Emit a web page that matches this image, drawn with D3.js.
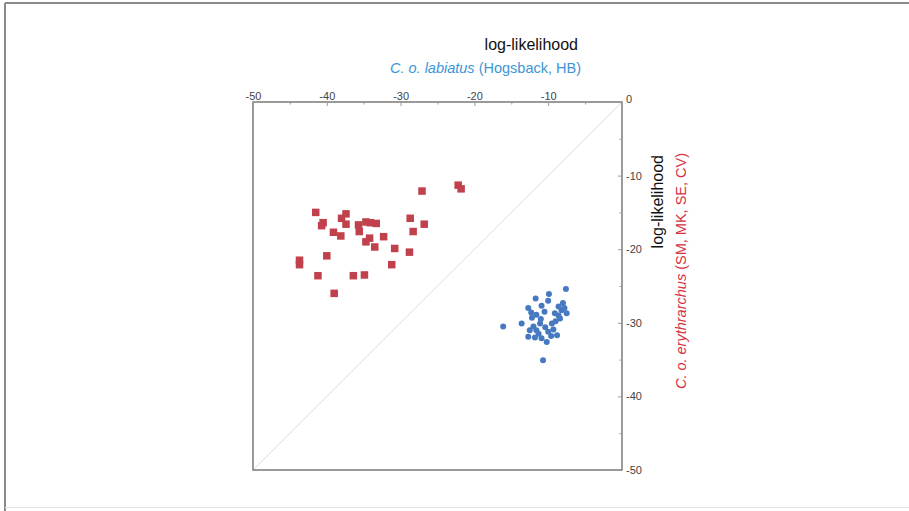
<!DOCTYPE html>
<html>
<head>
<meta charset="utf-8">
<script src="https://cdn.jsdelivr.net/npm/d3@7"></script>
<style>
  html, body { margin: 0; padding: 0; background: #fff; }
  svg { display: block; font-family: "Liberation Sans", Arial, sans-serif; }
</style>
</head>
<body>
<svg id="chart" width="909" height="511"></svg>
<script>
// Log-likelihood of each individual under the two population models
const hbX = [-7.6, -9.9, -11.7, -8.0, -12.7, -10.9, -8.6, -7.5, -9.1, -11.6, -12.2, -13.6, -16.1,
             -11.1, -9.5, -12.5, -11.6, -10.0, -12.7, -10.9, -10.2, -8.8, -10.7, -8.4, -11.0,
             -10.5, -9.0, -8.2, -12.0, -10.4, -11.3, -9.6, -8.6, -7.8, -12.3, -10.0, -11.8, -9.3];
const hbY = [-25.4, -26.1, -26.7, -27.3, -28.0, -27.7, -27.8, -28.7, -28.7, -28.9, -29.3, -30.1, -30.5,
             -30.1, -30.1, -31.0, -31.0, -31.2, -31.9, -32.1, -32.6, -31.7, -35.1, -29.4, -29.5,
             -28.5, -29.8, -28.3, -30.5, -30.6, -31.5, -31.8, -29.0, -28.0, -28.6, -27.0, -32.0, -30.9];

const erX = [-27.1, -22.2, -21.8, -41.5, -37.4, -38.0, -40.5, -40.7, -37.4, -34.7, -34.1, -33.3,
             -28.7, -26.8, -35.7, -35.6, -39.1, -38.1, -28.3, -32.3, -34.2, -34.7, -33.5, -30.8,
             -28.8, -40.0, -43.7, -43.7, -31.2, -41.2, -36.4, -34.9, -39.0];
const erY = [-12.1, -11.3, -11.8, -15.0, -15.2, -15.8, -16.4, -16.8, -16.6, -16.3, -16.4, -16.5,
             -15.8, -16.6, -16.7, -17.6, -17.7, -18.2, -17.6, -18.3, -18.5, -19.0, -19.7, -19.9,
             -20.4, -20.9, -21.5, -22.1, -22.1, -23.6, -23.6, -23.5, -26.0];

const axisTicks = [-50, -40, -30, -20, -10, 0];
const minorTicks = [-45, -35, -25, -15, -5];

const topTitle = "log-likelihood";
const topSub = ["C. o. labiatus", " (Hogsback, HB)"];
const rightTitle = "log-likelihood";
const rightSub = ["C. o. erythrarchus", " (SM, MK, SE, CV)"];

const colBlue = "#4679c0";
const colRed = "#c0404c";
const colBlueText = "#3d95d6";
const colRedText = "#d8323f";
const axisColor = "#7a7a7a";

const svg = d3.select("#chart");

// outer frame
svg.append("line").attr("x1", 5).attr("x2", 909).attr("y1", 3).attr("y2", 3)
  .attr("stroke", "#8a8a8a").attr("stroke-width", 2);
svg.append("line").attr("x1", 5).attr("x2", 5).attr("y1", 3).attr("y2", 511)
  .attr("stroke", "#8a8a8a").attr("stroke-width", 2);
svg.append("line").attr("x1", 5).attr("x2", 909).attr("y1", 507.5).attr("y2", 507.5)
  .attr("stroke", "#e2e2e2").attr("stroke-width", 1);

const L = 253, R = 622, T = 102, B = 470;
const x = d3.scaleLinear().domain([-50, 0]).range([L, R]);
const y = d3.scaleLinear().domain([0, -50]).range([T, B]);

// diagonal y = x
svg.append("line")
  .attr("x1", x(-50)).attr("y1", y(-50)).attr("x2", x(0)).attr("y2", y(0))
  .attr("stroke", "#dcdcdc").attr("stroke-width", 1);

// plot box
svg.append("rect").attr("x", L).attr("y", T).attr("width", R - L).attr("height", B - T)
  .attr("fill", "none").attr("stroke", axisColor).attr("stroke-width", 1.5);

const fmt = d => String(d);

// top axis (the shared 0 label sits on the right axis)
const gTop = svg.append("g").attr("transform", `translate(0,${T})`);
gTop.call(d3.axisTop(x).tickValues(axisTicks).tickSize(-4).tickPadding(2)
  .tickFormat(d => d === 0 ? "" : fmt(d)));
gTop.append("g").call(d3.axisTop(x).tickValues(minorTicks).tickSize(-2.5).tickFormat(""));

// right axis
const gRight = svg.append("g").attr("transform", `translate(${R},0)`);
gRight.call(d3.axisRight(y).tickValues(axisTicks).tickSize(-4).tickPadding(4).tickFormat(fmt));
gRight.append("g").call(d3.axisRight(y).tickValues(minorTicks).tickSize(-2.5).tickFormat(""));
gRight.selectAll(".tick").filter(d => d === 0).select("text").attr("dy", "0");

svg.selectAll(".domain").remove();
svg.selectAll(".tick line").attr("stroke", "#9a9a9a");
svg.selectAll(".tick text").attr("fill", "#444").style("font-size", "11px")
  .style("font-family", "'Liberation Sans', Arial, sans-serif");

// points
svg.append("g").selectAll("rect").data(erX).join("rect")
  .attr("x", (d, i) => x(d) - 3.75).attr("y", (d, i) => y(erY[i]) - 3.75)
  .attr("width", 7.5).attr("height", 7.5).attr("fill", colRed);

svg.append("g").selectAll("circle").data(hbX).join("circle")
  .attr("cx", d => x(d)).attr("cy", (d, i) => y(hbY[i])).attr("r", 3)
  .attr("fill", colBlue);

// titles
svg.append("text").attr("x", 578).attr("y", 50).attr("text-anchor", "end")
  .attr("fill", "#111").style("font-size", "16px").text(topTitle);
const st = svg.append("text").attr("x", 581).attr("y", 73).attr("text-anchor", "end")
  .attr("fill", colBlueText).style("font-size", "14.5px");
st.append("tspan").attr("font-style", "italic").text(topSub[0]);
st.append("tspan").text(topSub[1]);

svg.append("text").attr("transform", "translate(663,155) rotate(-90)").attr("text-anchor", "end")
  .attr("fill", "#111").style("font-size", "16px").text(rightTitle);
const sr = svg.append("text").attr("transform", "translate(686,153) rotate(-90)").attr("text-anchor", "end")
  .attr("fill", colRedText).style("font-size", "14.5px");
sr.append("tspan").attr("font-style", "italic").text(rightSub[0]);
sr.append("tspan").text(rightSub[1]);
</script>
</body>
</html>
